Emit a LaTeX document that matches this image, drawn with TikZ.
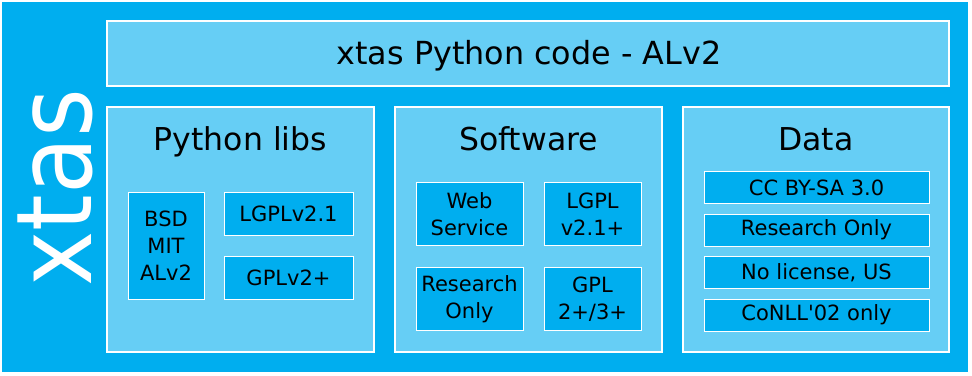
\documentclass[tikz,border=0pt]{standalone}
\usepackage{fontspec}
\setmainfont{DejaVu Sans}
\newfontfamily\narrowfont{DejaVu Sans}[FakeStretch=0.89]
\usepackage{tikz}
\usetikzlibrary{positioning}
\definecolor{xblue}{RGB}{0,174,239}
\definecolor{xlight}{RGB}{102,206,245}

\begin{document}
\begin{tikzpicture}[x=1pt, y=-1pt,
  panel/.style={draw=white, line width=1.3pt, fill=xlight, inner sep=0pt},
  lic/.style={draw=white, line width=1pt, fill=xblue, inner sep=0pt, align=center,
    font=\fontsize{21}{27}\selectfont},
  heading/.style={anchor=base, font=\fontsize{31.5}{36}\selectfont},
  titletext/.style={anchor=base, font=\fontsize{31.8}{36}\selectfont}
]
\useasboundingbox[fill=white] (0,0) rectangle (972,375);

%========== background and vertical name ==========
\fill[xblue] (2,2) rectangle (968,372);
\node[rotate=90, anchor=base, text=white, font=\narrowfont\fontsize{105}{120}\selectfont]
  (name) at (91,187.5) {xtas};

%========== top bar ==========
\node[panel, minimum width=842pt, minimum height=65pt] (code) at (528,53.5) {};
\node[titletext] (codelabel) at (529,64) {xtas Python code - ALv2};

%========== panels ==========
\node[panel, minimum width=267pt, minimum height=245pt] (libs) at (240.5,229.5) {};
\node[panel, minimum width=267pt, minimum height=245pt] (soft) at (528.5,229.5) {};
\node[panel, minimum width=266pt, minimum height=245pt] (data) at (816,229.5) {};

\node[heading] (libstitle) at (240.5,150) {Python libs};
\node[heading] (softtitle) at (528.5,150) {Software};
\node[heading] (datatitle) at (816,150) {Data};

%========== Python libs ==========
\node[lic, minimum width=76pt, minimum height=107pt] (bsd) at (166,245.5) {BSD\\MIT\\ALv2};
\node[lic, minimum width=129pt, minimum height=43pt] (lgpl) at (288.5,213.5) {LGPLv2.1};
\node[lic, minimum width=129pt, minimum height=43pt] (gpl) at (288.5,277.5) {GPLv2+};

%========== Software ==========
\node[lic, minimum width=107pt, minimum height=63pt] (web) at (469.5,214) {Web\\Service};
\node[lic, minimum width=97pt, minimum height=63pt] (lgplsw) at (592.5,214) {LGPL\\v2.1+};
\node[lic, minimum width=107pt, minimum height=63pt] (research) at (469.5,299) {Research\\Only};
\node[lic, minimum width=97pt, minimum height=63pt] (gplsw) at (592.5,299) {GPL\\2+/3+};

%========== Data ==========
\node[lic, minimum width=225pt, minimum height=32pt] (ccby) at (816.5,187.5) {CC BY-SA 3.0};
\node[lic, minimum width=225pt, minimum height=32pt] (resdata) at (816.5,230) {Research Only};
\node[lic, minimum width=225pt, minimum height=32pt] (nolic) at (816.5,272.5) {No license, US};
\node[lic, minimum width=225pt, minimum height=32pt] (conll) at (816.5,315) {CoNLL\textquotesingle 02 only};

\end{tikzpicture}
\end{document}
